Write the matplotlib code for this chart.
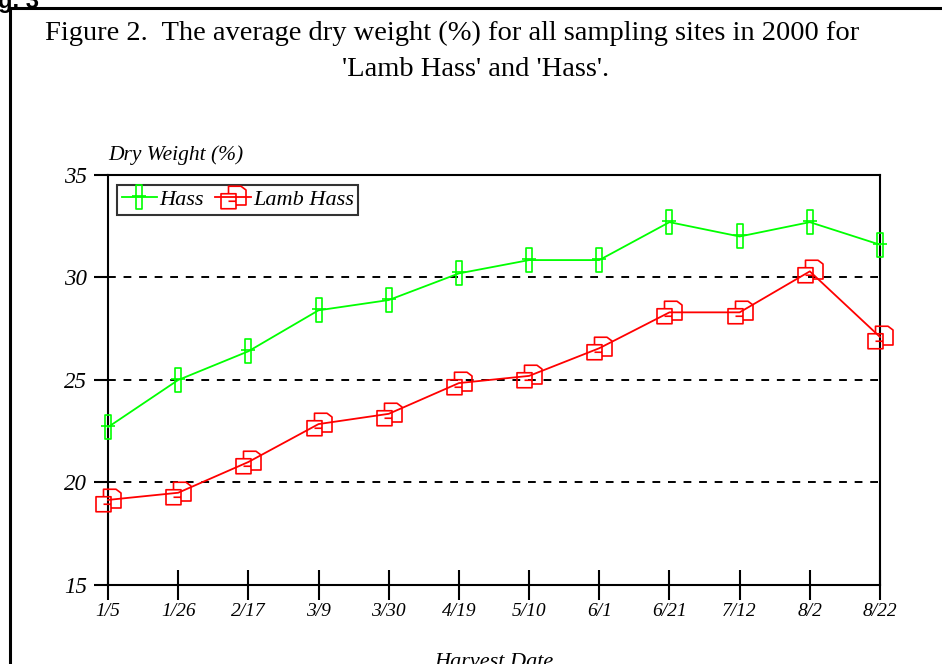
import matplotlib.pyplot as plt
from matplotlib.path import Path

dates = ["1/5", "1/26", "2/17", "3/9", "3/30", "4/19", "5/10", "6/1",
         "6/21", "7/12", "8/2", "8/22"]
hass = [22.7, 25.0, 26.4, 28.4, 28.9, 30.2, 30.85, 30.85, 32.7, 32.0, 32.7, 31.6]
lamb_hass = [19.15, 19.5, 21.0, 22.85, 23.35, 24.85, 25.2, 26.55, 28.3, 28.3, 30.3, 27.1]
yticks = [15, 20, 25, 30, 35]

# narrow box with a short crossbar for Hass
hass_marker = Path(
    [(-0.14, -0.5), (0.14, -0.5), (0.14, 0.5), (-0.14, 0.5), (-0.14, -0.5),
     (-0.3, 0.05), (0.3, 0.05)],
    [Path.MOVETO, Path.LINETO, Path.LINETO, Path.LINETO, Path.CLOSEPOLY,
     Path.MOVETO, Path.LINETO])
# little boxy glyph for Lamb Hass
lamb_marker = Path(
    [(-0.5, -0.45), (0.1, -0.45), (0.1, 0.15), (-0.5, 0.15), (-0.5, -0.45),
     (-0.2, 0.15), (-0.2, 0.45), (0.3, 0.45), (0.5, 0.3), (0.5, -0.3), (0.1, -0.3),
     (-0.2, -0.15), (0.1, -0.15)],
    [Path.MOVETO, Path.LINETO, Path.LINETO, Path.LINETO, Path.CLOSEPOLY,
     Path.MOVETO, Path.LINETO, Path.LINETO, Path.LINETO, Path.LINETO, Path.LINETO,
     Path.MOVETO, Path.LINETO])

plt.rcParams["font.family"] = ["Liberation Serif", "DejaVu Serif"]

fig = plt.figure(figsize=(9.42, 6.64), dpi=100)

# outer frame of the page
fig.add_artist(plt.Line2D([10/942, 10/942], [0, 1 - 8/664], color="black", lw=2.2,
                          transform=fig.transFigure))
fig.add_artist(plt.Line2D([10/942, 1], [1 - 8/664, 1 - 8/664], color="black", lw=2.2,
                          transform=fig.transFigure))
fig.text(-2/942, 1 + 10/664, "g. 3", fontsize=17, fontweight="bold",
         family="Liberation Sans", va="top", ha="left")

fig.text(452/942, 1 - 33/664,
         "Figure 2.  The average dry weight (%) for all sampling sites in 2000 for",
         fontsize=20.5, ha="center", va="center")
fig.text(476/942, 1 - 70/664, "'Lamb Hass' and 'Hass'.", fontsize=20.5,
         ha="center", va="center")

ax = fig.add_axes([108/942, 79/664, 772/942, 410/664])
x = list(range(len(dates)))

ax.plot(x, hass, color="#00ff00", lw=1.3, marker=hass_marker, markersize=17,
        markerfacecolor="none", markeredgecolor="#00ff00", markeredgewidth=1.2,
        label="Hass", clip_on=False, zorder=3)
ax.plot(x, lamb_hass, color="#ff0000", lw=1.3, marker=lamb_marker, markersize=18,
        markerfacecolor="none", markeredgecolor="#ff0000", markeredgewidth=1.2,
        label="Lamb Hass", clip_on=False, zorder=3)

for v in [20, 25, 30]:
    ax.axhline(v, color="black", lw=1.4, ls=(0, (4, 4)), zorder=1)

ax.set_xlim(0, len(dates) - 1)
ax.set_ylim(15, 35)
ax.set_yticks(yticks)
ax.set_xticks(x)
ax.set_xticklabels(dates, fontstyle="italic", fontsize=14)
ax.set_yticklabels([str(t) for t in yticks], fontstyle="italic", fontsize=16.5)
ax.tick_params(axis="x", direction="inout", length=22, width=1.5, pad=2)
ax.tick_params(axis="y", direction="out", length=10, width=1.5, pad=5)
for s in ax.spines.values():
    s.set_linewidth(1.5)

ax.text(0, 1.025, "Dry Weight (%)", transform=ax.transAxes, fontstyle="italic",
        fontsize=15.5, ha="left", va="bottom")
ax.text(0.5, -0.165, "Harvest Date", transform=ax.transAxes, fontstyle="italic",
        fontsize=16, ha="center", va="top")

leg = ax.legend(loc="upper left", ncol=2, frameon=True, fancybox=False,
                prop={"style": "italic", "size": 16}, handlelength=1.6,
                handletextpad=0.1, columnspacing=0.5, borderpad=0.2,
                bbox_to_anchor=(0.012, 0.975), borderaxespad=0)
leg.get_frame().set_edgecolor("black")
leg.get_frame().set_linewidth(1.5)

fig.savefig("out.png", dpi=100)
